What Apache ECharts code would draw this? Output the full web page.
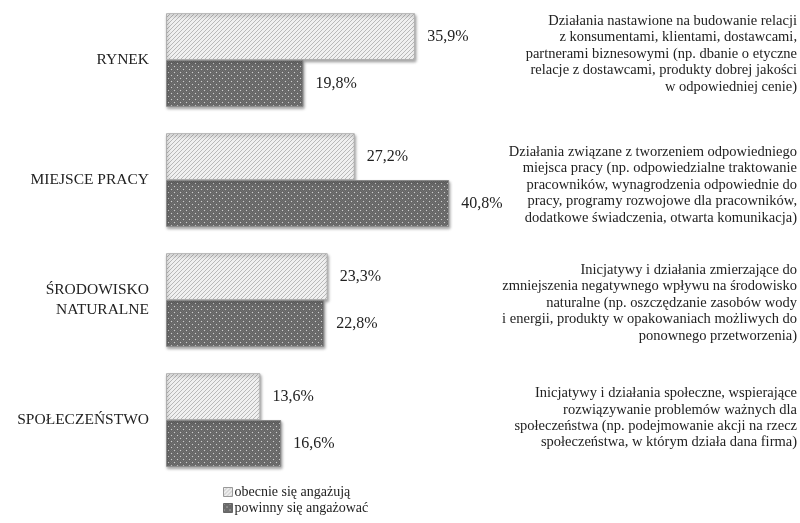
<!DOCTYPE html>
<html>
<head>
<meta charset="utf-8">
<script src="https://cdn.jsdelivr.net/npm/echarts@6/dist/echarts.min.js"></script>
<style>
  html, body { margin: 0; padding: 0; background: #ffffff; }
  #chart { width: 800px; height: 523px; }
</style>
</head>
<body>
<div id="chart"></div>
<script>
// Areas of engagement (top to bottom)
const categories = ['RYNEK', 'MIEJSCE PRACY', 'ŚRODOWISKO\nNATURALNE', 'SPOŁECZEŃSTWO'];
const seriesNames = ['obecnie się angażują', 'powinny się angażować'];
// Share of answers, %
const currentValues = [35.9, 27.2, 23.3, 13.6];
const desiredValues = [19.8, 40.8, 22.8, 16.6];
// Description of each area, shown on the right
const descriptions = [
  'Działania nastawione na budowanie relacji\nz konsumentami, klientami, dostawcami,\npartnerami biznesowymi (np. dbanie o etyczne\nrelacje z dostawcami, produkty dobrej jakości\nw odpowiedniej cenie)',
  'Działania związane z tworzeniem odpowiedniego\nmiejsca pracy (np. odpowiedzialne traktowanie\npracowników, wynagrodzenia odpowiednie do\npracy, programy rozwojowe dla pracowników,\ndodatkowe świadczenia, otwarta komunikacja)',
  'Inicjatywy i działania zmierzające do\nzmniejszenia negatywnego wpływu na środowisko\nnaturalne (np. oszczędzanie zasobów wody\ni energii, produkty w opakowaniach możliwych do\nponownego przetworzenia)',
  'Inicjatywy i działania społeczne, wspierające\nrozwiązywanie problemów ważnych dla\nspołeczeństwa (np. podejmowanie akcji na rzecz\nspołeczeństwa, w którym działa dana firma)'
];

const FONT = 'Liberation Serif';

// Fine diagonal hatching on a pale background
function hatchPattern() {
  const c = document.createElement('canvas');
  c.width = 4; c.height = 4;
  const g = c.getContext('2d');
  const img = g.createImageData(4, 4);
  for (let y = 0; y < 4; y++) {
    for (let x = 0; x < 4; x++) {
      const i = (y * 4 + x) * 4;
      const on = (x + y) % 4 === 3;
      const v = on ? 185 : 240;
      img.data[i] = v; img.data[i + 1] = v; img.data[i + 2] = v; img.data[i + 3] = 255;
    }
  }
  g.putImageData(img, 0, 0);
  return c;
}

// Dark grey with a grid of light dots
function dotPattern() {
  const c = document.createElement('canvas');
  c.width = 6; c.height = 6;
  const g = c.getContext('2d');
  const img = g.createImageData(6, 6);
  for (let y = 0; y < 6; y++) {
    for (let x = 0; x < 6; x++) {
      const i = (y * 6 + x) * 4;
      let v = ((x + y) % 2 === 0) ? 100 : 114;
      if ((x === 0 && y === 0) || (x === 3 && y === 3)) v = 205;
      img.data[i] = v; img.data[i + 1] = v; img.data[i + 2] = v; img.data[i + 3] = 255;
    }
  }
  g.putImageData(img, 0, 0);
  return c;
}

const lightFill = { image: hatchPattern(), repeat: 'repeat' };
const darkFill = { image: dotPattern(), repeat: 'repeat' };

const chart = echarts.init(document.getElementById('chart'), null, { renderer: 'canvas' });

const valueLabel = {
  show: true,
  position: 'right',
  distance: 12,
  fontFamily: FONT,
  fontSize: 16,
  color: '#222',
  formatter: p => p.value.toFixed(1).replace('.', ',') + '%'
};

const barShadow = {
  shadowColor: 'rgba(0,0,0,0.35)',
  shadowBlur: 3,
  shadowOffsetX: 1,
  shadowOffsetY: 2
};

chart.setOption({
  backgroundColor: '#ffffff',
  animation: false,
  grid: { left: 166, right: 287, top: 0, bottom: 43 },
  xAxis: {
    type: 'value', min: 0, max: 50,
    show: false
  },
  yAxis: {
    type: 'category',
    data: categories,
    inverse: true,
    axisLine: { show: false },
    axisTick: { show: false },
    axisLabel: {
      margin: 17,
      fontFamily: FONT,
      fontSize: 15.5,
      color: '#222',
      align: 'right',
      lineHeight: 20
    }
  },
  legend: {
    orient: 'vertical',
    left: 223,
    top: 485,
    padding: 0,
    itemWidth: 9,
    itemHeight: 9,
    itemGap: 2,
    icon: 'rect',
    textStyle: { fontFamily: FONT, fontSize: 14, color: '#222', padding: [0, 0, 0, -3] },
    data: [
      { name: seriesNames[0], itemStyle: { color: lightFill, borderColor: '#999', borderWidth: 1 } },
      { name: seriesNames[1], itemStyle: { color: darkFill, borderColor: '#666', borderWidth: 1 } }
    ]
  },
  series: [
    {
      name: seriesNames[0],
      type: 'bar',
      data: currentValues,
      barGap: '0%',
      barCategoryGap: '22%',
      itemStyle: Object.assign({
        color: lightFill,
        borderColor: '#b0b0b0',
        borderWidth: 1
      }, barShadow),
      label: valueLabel
    },
    {
      name: seriesNames[1],
      type: 'bar',
      data: desiredValues,
      itemStyle: Object.assign({
        color: darkFill,
        borderColor: '#8a8a8a',
        borderWidth: 1
      }, barShadow),
      label: valueLabel
    }
  ]
});

// Right-hand descriptions, centred on each category band
const textShift = [-6, 5, 3, -2];
chart.setOption({
  graphic: descriptions.map((txt, i) => ({
    type: 'text',
    right: 3,
    y: chart.convertToPixel({ yAxisIndex: 0 }, i) + textShift[i],
    style: {
      text: txt,
      fontFamily: FONT,
      fontSize: 14.5,
      lineHeight: 16.4,
      fill: '#222',
      align: 'right',
      verticalAlign: 'middle'
    }
  }))
});
</script>
</body>
</html>
